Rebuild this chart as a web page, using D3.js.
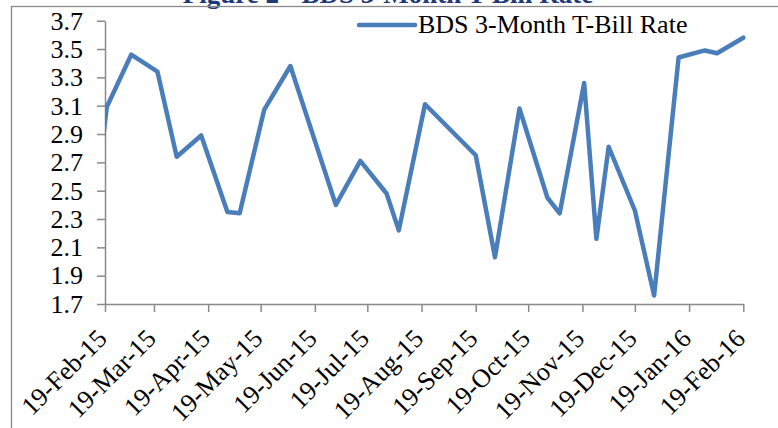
<!DOCTYPE html>
<html>
<head>
<meta charset="utf-8">
<script src="https://cdn.jsdelivr.net/npm/d3@7"></script>
<style>
    body { margin: 0; background: #fff; }
    svg { display: block; }
    text { font-family: "Liberation Serif", "Times New Roman", serif; }
</style>
</head>
<body>
<script>
// auction dates and rates
const dates = ["2015-02-18", "2015-02-20", "2015-03-06", "2015-03-21", "2015-04-01", "2015-04-15",
    "2015-04-30", "2015-05-07", "2015-05-21", "2015-06-05", "2015-07-01", "2015-07-15",
    "2015-07-30", "2015-08-06", "2015-08-21", "2015-09-19", "2015-09-30", "2015-10-14",
    "2015-10-30", "2015-11-06", "2015-11-20", "2015-11-27", "2015-12-04", "2015-12-19",
    "2015-12-30", "2016-01-13", "2016-01-28", "2016-02-04", "2016-02-19"];
const rates = [2.88, 3.09, 3.46, 3.34, 2.74, 2.89, 2.35, 2.34, 3.07, 3.38, 2.40, 2.71,
    2.48, 2.22, 3.11, 2.75, 2.03, 3.08, 2.45, 2.34, 3.26, 2.16, 2.81, 2.36,
    1.76, 3.44, 3.49, 3.47, 3.58];

const xTicks = ["2015-02-19", "2015-03-19", "2015-04-19", "2015-05-19", "2015-06-19", "2015-07-19",
    "2015-08-19", "2015-09-19", "2015-10-19", "2015-11-19", "2015-12-19", "2016-01-19", "2016-02-19"];
const yTicks = [1.7, 1.9, 2.1, 2.3, 2.5, 2.7, 2.9, 3.1, 3.3, 3.5, 3.7];

const seriesName = "BDS 3-Month T-Bill Rate";
const title = "Figure 2 - BDS 3-Month T-Bill Rate";

const w = 778;
const h = 428;
const parse = d3.utcParse("%Y-%m-%d");

let myData = dates.map((d, i) => {
    return { date: parse(d), rate: rates[i] }
});

const margin = { top: 20.7, left: 105, right: 34.7, bottom: 124 };
const innerW = w - margin.left - margin.right;
const innerH = h - margin.top - margin.bottom;

const svg = d3.select("body")
    .append("svg")
    .attr("width", w)
    .attr("height", h);

// title (mostly cut off above the frame, as in the source)
svg.append("text")
    .attr("x", 388)
    .attr("y", 3)
    .attr("text-anchor", "middle")
    .attr("font-size", 27)
    .attr("font-weight", "bold")
    .attr("fill", "#1f3a78")
    .text(title);

// chart frame
svg.append("rect")
    .attr("x", 11.5)
    .attr("y", 6.5)
    .attr("width", 800)
    .attr("height", 500)
    .attr("fill", "none")
    .attr("stroke", "#8a8a8a")
    .attr("stroke-width", 1.3);

const xScale = d3.scaleUtc()
    .domain([parse(xTicks[0]), parse(xTicks[xTicks.length - 1])])
    .range([0, innerW]);

const yScale = d3.scaleLinear()
    .domain([1.7, 3.7])
    .range([innerH, 0]);

const g = svg.append("g")
    .attr("transform", `translate(${margin.left},${margin.top})`);

const yAxisG = g.append("g")
    .call(d3.axisLeft(yScale)
        .tickValues(yTicks)
        .tickSize(8)
        .tickSizeOuter(0)
        .tickPadding(14)
        .tickFormat(d3.format(".1f")));

const xAxisG = g.append("g")
    .attr("transform", `translate(0,${innerH})`)
    .call(d3.axisBottom(xScale)
        .tickValues(xTicks.map(parse))
        .tickSize(8)
        .tickSizeOuter(0)
        .tickFormat(d3.utcFormat("%d-%b-%y")));

[yAxisG, xAxisG].forEach(ax => {
    ax.select(".domain").attr("stroke", "#8a8a8a").attr("stroke-width", 1.5);
    ax.selectAll(".tick line").attr("stroke", "#8a8a8a").attr("stroke-width", 1.5);
    ax.selectAll("text")
        .attr("fill", "#000")
        .attr("font-size", 26)
        .attr("font-family", '"Liberation Serif", "Times New Roman", serif');
});

xAxisG.selectAll(".tick text")
    .attr("y", 0)
    .attr("dy", 0)
    .attr("text-anchor", "end")
    .attr("transform", "translate(3,36) rotate(-45)");

g.append("clipPath")
    .attr("id", "plot-clip")
    .append("rect")
    .attr("x", 0)
    .attr("y", -10)
    .attr("width", innerW + 10)
    .attr("height", innerH + 20);

const line = d3.line()
    .x(d => xScale(d.date))
    .y(d => yScale(d.rate));

g.append("path")
    .datum(myData)
    .attr("clip-path", "url(#plot-clip)")
    .attr("d", line)
    .attr("fill", "none")
    .attr("stroke", "#4a7ebb")
    .attr("stroke-width", 4.5)
    .attr("stroke-linejoin", "round")
    .attr("stroke-linecap", "round");

// legend
svg.append("line")
    .attr("x1", 359)
    .attr("x2", 415)
    .attr("y1", 25)
    .attr("y2", 25)
    .attr("stroke", "#4a7ebb")
    .attr("stroke-width", 4.5)
    .attr("stroke-linecap", "round");

svg.append("text")
    .attr("x", 418)
    .attr("y", 33)
    .attr("font-size", 26)
    .attr("fill", "#000")
    .text(seriesName);
</script>
</body>
</html>
